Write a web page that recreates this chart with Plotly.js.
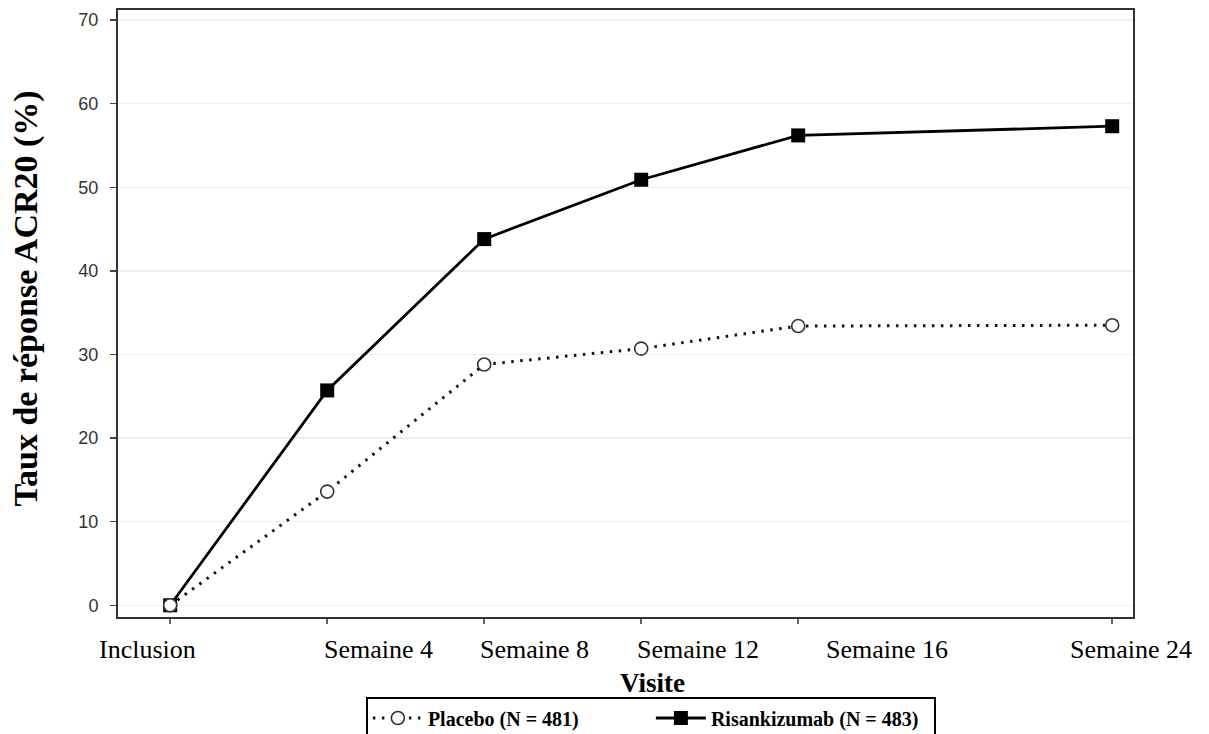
<!DOCTYPE html>
<html>
<head>
<meta charset="utf-8">
<script src="https://cdn.plot.ly/plotly-3.0.1.min.js"></script>
<style>html,body{margin:0;padding:0;background:#fff;}#chart{width:1209px;height:734px;}</style>
</head>
<body>
<div id="chart"></div>
<script>
// Data (weeks since inclusion)
var visitWeeks = [0, 4, 8, 12, 16, 24];
var visitLabels = ["Inclusion", "Semaine 4", "Semaine 8", "Semaine 12", "Semaine 16", "Semaine 24"];
var placeboValues = [0, 13.6, 28.8, 30.7, 33.4, 33.5];
var risankizumabValues = [0, 25.7, 43.8, 50.9, 56.2, 57.3];
var placeboName = "Placebo (N = 481)";
var risankizumabName = "Risankizumab (N = 483)";

// Layout-only offsets for the x tick label text (pixels)
var labelShift = [-23, 51, 50, 57, 89, 19];

var serif = "Liberation Serif, Times New Roman, serif";

var traces = [
  {
    x: visitWeeks, y: risankizumabValues, name: risankizumabName,
    type: "scatter", mode: "lines+markers", legendrank: 2,
    line: {color: "#000", width: 2.8},
    marker: {symbol: "square", size: 14, color: "#000"}
  },
  {
    x: visitWeeks, y: placeboValues, name: placeboName,
    type: "scatter", mode: "lines+markers", legendrank: 1,
    line: {color: "#111", width: 3, dash: "2.5px,6.5px"},
    marker: {symbol: "circle", size: 13, color: "#fff", line: {color: "#333", width: 1.6}}
  }
];

var annotations = visitLabels.map(function (t, i) {
  return {
    text: t, x: visitWeeks[i], xref: "x", y: -0.053, yref: "paper",
    xanchor: "center", yanchor: "middle", xshift: labelShift[i], showarrow: false,
    font: {family: serif, size: 26, color: "#000"}
  };
});
annotations.push({
  text: "Visite", x: 0.527, xref: "paper", y: -0.108, yref: "paper",
  xanchor: "center", yanchor: "middle", showarrow: false,
  font: {family: serif, size: 27, color: "#000", weight: "bold"}
});
annotations.push({
  text: "Taux de réponse ACR20 (%)", x: -0.091, xref: "paper", y: 0.524, yref: "paper",
  xanchor: "center", yanchor: "middle", textangle: -90, showarrow: false,
  font: {family: serif, size: 34, color: "#000", weight: "bold"}
});

var layout = {
  width: 1209, height: 734,
  margin: {l: 118, r: 76, t: 10, b: 117, autoexpand: false},
  paper_bgcolor: "#fff", plot_bgcolor: "#fff",
  showlegend: true,
  legend: {
    orientation: "h", x: 0.525, xanchor: "center", y: -0.131, yanchor: "top",
    bordercolor: "#000", borderwidth: 2, bgcolor: "#fff",
    itemwidth: 50, entrywidth: 218, entrywidthmode: "pixels",
    font: {family: serif, size: 20, color: "#000", weight: "bold"}
  },
  xaxis: {
    range: [-1.33, 24.53], tickmode: "array", tickvals: visitWeeks,
    showticklabels: false, ticks: "outside", ticklen: 5, tickwidth: 1.5, tickcolor: "#666",
    showline: true, linecolor: "#333", linewidth: 2, mirror: true,
    showgrid: false, zeroline: false
  },
  yaxis: {
    range: [-1.4, 71.2], tickmode: "linear", tick0: 0, dtick: 10,
    ticks: "outside", ticklen: 6, tickwidth: 1.5, tickcolor: "#444",
    ticklabelstandoff: 8,
    tickfont: {family: "Liberation Sans, Arial, sans-serif", size: 18, color: "#333"},
    showline: true, linecolor: "#333", linewidth: 2, mirror: true,
    showgrid: true, gridcolor: "#efefef", gridwidth: 1.5, zeroline: false
  },
  annotations: annotations
};

Plotly.newPlot("chart", traces, layout, {displayModeBar: false, staticPlot: true});
</script>
</body>
</html>
